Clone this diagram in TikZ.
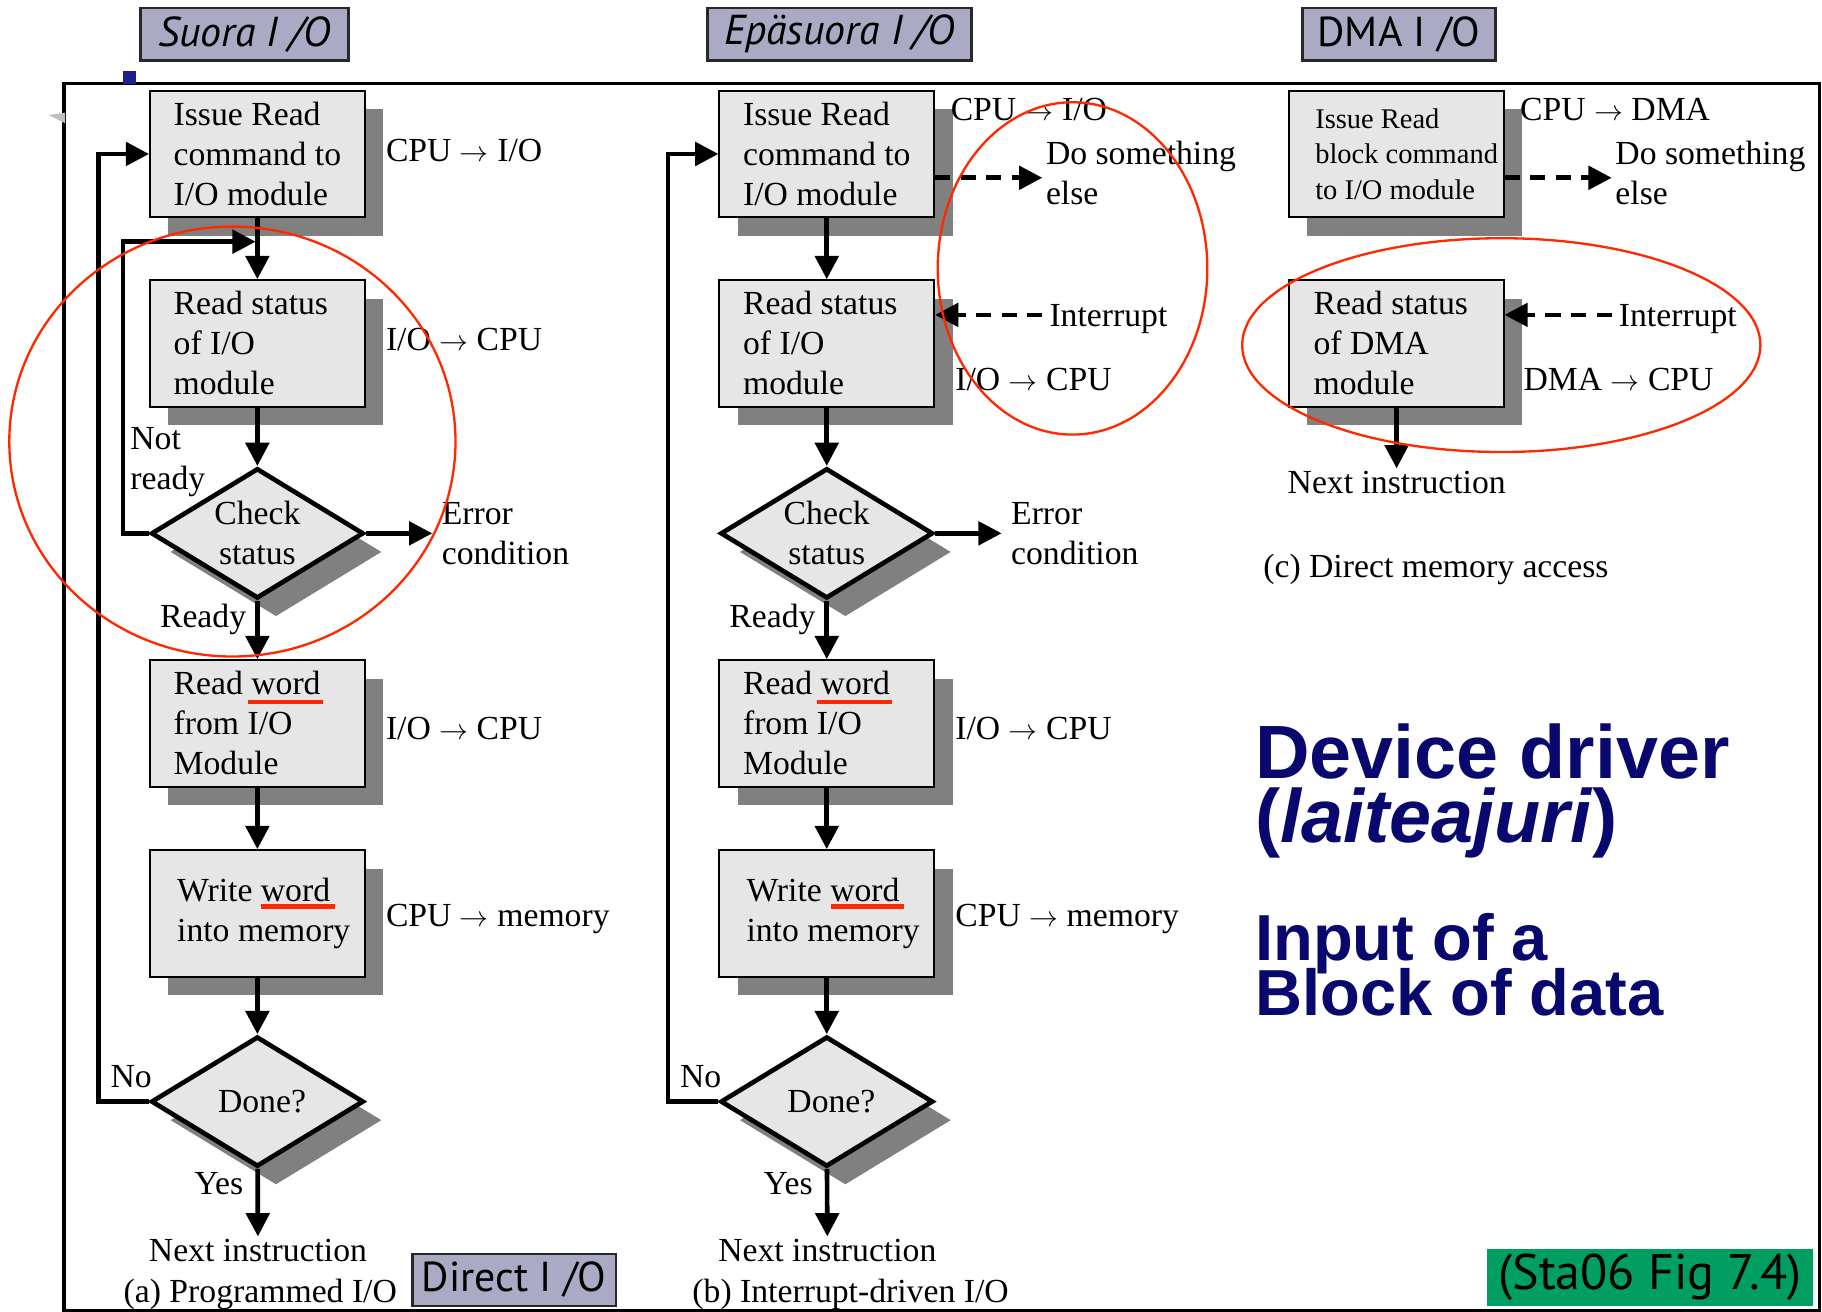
\documentclass[tikz,border=0pt]{standalone}
\usepackage{fontspec}
\setmainfont{Liberation Serif}
\newfontfamily\tagfont{PT Sans}
\newfontfamily\headfont{Liberation Sans}
\usetikzlibrary{arrows.meta,shapes.geometric,shadows}

\definecolor{boxgray}{RGB}{230,230,230}
\definecolor{shadowgray}{RGB}{128,128,128}
\definecolor{tagfill}{RGB}{170,170,196}
\definecolor{tagedge}{RGB}{40,40,40}
\definecolor{markred}{RGB}{255,40,0}
\definecolor{navy}{RGB}{8,8,110}
\definecolor{figgreen}{RGB}{0,158,96}
\definecolor{bulletblue}{RGB}{30,30,140}

% long arrow used in the transfer labels
\newcommand{\xfer}{\ensuremath{\rightarrow}}

\begin{document}
\begin{tikzpicture}[x=1pt,y=-1pt,
  txt/.style={font=\fontsize{29}{34.5}\selectfont, inner sep=0pt},
  smalltxt/.style={font=\fontsize{24.5}{30.5}\selectfont, inner sep=0pt},
  boxshadow/.style={drop shadow={shadow xshift=16pt, shadow yshift=-16pt, opacity=1, fill=shadowgray, draw=none}},
  stepbox/.style={draw=black, line width=1.5pt, fill=boxgray, minimum width=185pt,
    minimum height=109pt, inner sep=0pt, boxshadow},
  decision/.style={diamond, draw=black, line width=4pt, fill=boxgray, minimum width=183pt,
    minimum height=112pt, inner sep=0pt, boxshadow},
  flow/.style={line width=4pt, -{Triangle[length=20pt,width=20pt]}},
  dflow/.style={flow, dash pattern=on 13pt off 9pt},
  tag/.style={draw=tagedge, line width=2pt, fill=tagfill, minimum height=45pt, inner sep=0pt,
    font=\tagfont\fontsize{36}{36}\selectfont},
  redline/.style={markred, line width=4pt},
  halo/.style={markred, line width=2pt},
  head/.style={navy, inner sep=0pt, anchor=base west, font=\headfont\bfseries\fontsize{65}{65}\selectfont},
  subhead/.style={head, font=\headfont\bfseries\fontsize{56}{56}\selectfont}
]
\useasboundingbox (0,0) rectangle (1568,1129);

% outer frame and small marks at its corner
\draw[line width=3pt] (55,72) rectangle (1566,1128);
\fill[bulletblue] (106,61) rectangle (117,72);
\fill[gray!50] (42,99) -- (56,97) -- (56,106) -- cycle;

% headings above the three columns
\node[tag, minimum width=179pt, font=\tagfont\itshape\fontsize{36}{36}\selectfont] (tagA) at (210.5,29.5) {Suora I /O};
\node[tag, minimum width=227pt, font=\tagfont\itshape\fontsize{36}{36}\selectfont] (tagB) at (722.5,29.5) {Epäsuora I /O};
\node[tag, minimum width=166pt] (tagC) at (1204,29.5) {DMA I /O};
\node[tag, minimum width=175pt] (tagD) at (442.5,1101.5) {Direct I /O};
\node[fill=figgreen, minimum width=280pt, minimum height=49pt, inner sep=0pt,
  font=\tagfont\fontsize{43}{43}\selectfont] (fig) at (1420,1099.5) {(Sta06 Fig 7.4)};

% ---------------- (a) programmed I/O ----------------
\coordinate (lpA) at (85,0);
\coordinate (nrA) at (106,0);
\coordinate (joinA) at (220,208);
\coordinate (errA) at (372,459);

\node[stepbox] (a1) at (221.5,132.5) {};
\node[stepbox] (a2) at (221.5,295.5) {};
\node[decision] (ac) at (221.5,459) {};
\node[stepbox] (a3) at (221.5,622.5) {};
\node[stepbox] (a4) at (221.5,786) {};
\node[decision] (ad) at (221.5,948) {};

\node[txt, anchor=west, align=left] (a1t) at ([xshift=21pt]a1.west) {Issue Read\\command to\\I/O module};
\node[txt, anchor=west, align=left] (a2t) at ([xshift=21pt]a2.west) {Read status\\of I/O\\module};
\node[txt, align=center] (act) at (ac) {Check\\status};
\node[txt, anchor=west, align=left] (a3t) at ([xshift=21pt]a3.west) {Read word\\from I/O\\Module};
\node[txt, anchor=west, align=left] (a4t) at ([xshift=24pt]a4.west) {Write word\\into memory};
\node[txt] (adt) at ([xshift=4pt]ad.center) {Done?};

\node[txt, anchor=base west] (a1l) at (332,139) {CPU \xfer{} I/O};
\node[txt, anchor=base west] (a2l) at (332,302) {I/O \xfer{} CPU};
\node[txt, anchor=west, align=left] (aerr) at (380,459) {Error\\condition};
\node[txt, anchor=west, align=left] (anr) at (112,398) {Not\\ready};
\node[txt, anchor=base east] (ardy) at (212,540) {Ready};
\node[txt, anchor=base west] (a3l) at (332,636) {I/O \xfer{} CPU};
\node[txt, anchor=base west] (a4l) at (332,797) {CPU \xfer{} memory};
\node[txt, anchor=base west] (ano) at (95,936) {No};
\node[txt, anchor=base west] (ayes) at (167,1028) {Yes};
\node[txt, inner sep=2pt] (nxA) at (222,1076) {Next instruction};
\node[txt] (capA) at (224,1114) {(a) Programmed I/O};

\draw[flow] (a1) -- (a2);
\draw[flow] (a2) -- (ac);
\draw[flow] (ac) -- (a3);
\draw[flow] (a3) -- (a4);
\draw[flow] (a4) -- (ad);
\draw[flow] (ad) -- (nxA);
\draw[flow] (ac.east) -- (errA);
\draw[flow] (ac.west) -- (ac.west -| nrA) |- (joinA);
\draw[flow] (ad.west) -- (ad.west -| lpA) |- (a1.west);

% ---------------- (b) interrupt-driven I/O ----------------
\coordinate (lpB) at (575,0);
\coordinate (errB) at (862,459);
\coordinate (dB) at (897,153);
\coordinate (iB) at (897,271);

\node[stepbox] (b1) at (711.5,132.5) {};
\node[stepbox] (b2) at (711.5,295.5) {};
\node[decision] (bc) at (711.5,459) {};
\node[stepbox] (b3) at (711.5,622.5) {};
\node[stepbox] (b4) at (711.5,786) {};
\node[decision] (bd) at (711.5,948) {};

\node[txt, anchor=west, align=left] (b1t) at ([xshift=21pt]b1.west) {Issue Read\\command to\\I/O module};
\node[txt, anchor=west, align=left] (b2t) at ([xshift=21pt]b2.west) {Read status\\of I/O\\module};
\node[txt, align=center] (bct) at (bc) {Check\\status};
\node[txt, anchor=west, align=left] (b3t) at ([xshift=21pt]b3.west) {Read word\\from I/O\\Module};
\node[txt, anchor=west, align=left] (b4t) at ([xshift=24pt]b4.west) {Write word\\into memory};
\node[txt] (bdt) at ([xshift=4pt]bd.center) {Done?};

\node[txt, anchor=base west] (b1l) at (818,104) {CPU \xfer{} I/O};
\node[txt, anchor=west, align=left] (bdo) at (900,149) {Do something\\else};
\node[txt, anchor=base west] (bint) at (903,281) {Interrupt};
\node[txt, anchor=base west] (b2l) at (822,336) {I/O \xfer{} CPU};
\node[txt, anchor=west, align=left] (berr) at (870,459) {Error\\condition};
\node[txt, anchor=base east] (brdy) at (702,540) {Ready};
\node[txt, anchor=base west] (b3l) at (822,636) {I/O \xfer{} CPU};
\node[txt, anchor=base west] (b4l) at (822,797) {CPU \xfer{} memory};
\node[txt, anchor=base west] (bno) at (585,936) {No};
\node[txt, anchor=base west] (byes) at (657,1028) {Yes};
\node[txt, inner sep=2pt] (nxB) at (712,1076) {Next instruction};
\node[txt] (capB) at (732,1114) {(b) Interrupt-driven I/O};

\draw[flow] (b1) -- (b2);
\draw[flow] (b2) -- (bc);
\draw[flow] (bc) -- (b3);
\draw[flow] (b3) -- (b4);
\draw[flow] (b4) -- (bd);
\draw[flow] (bd) -- (nxB);
\draw[flow] (bc.east) -- (errB);
\draw[flow] (bd.west) -- (bd.west -| lpB) |- (b1.west);
\draw[dflow] (b1.east |- dB) -- (dB);
\draw[dflow] (iB) -- (b2.east |- iB);

% ---------------- (c) direct memory access ----------------
\coordinate (dC) at (1387,153);
\coordinate (iC) at (1387,271);

\node[stepbox] (c1) at (1201.5,132.5) {};
\node[stepbox] (c2) at (1201.5,295.5) {};

\node[smalltxt, anchor=west, align=left] (c1t) at ([xshift=23.5pt]c1.west) {Issue Read\\block command\\to I/O module};
\node[txt, anchor=west, align=left] (c2t) at ([xshift=22pt]c2.west) {Read status\\of DMA\\module};

\node[txt, anchor=base west] (c1l) at (1308,104) {CPU \xfer{} DMA};
\node[txt, anchor=west, align=left] (cdo) at (1390,149) {Do something\\else};
\node[txt, anchor=base west] (cint) at (1393,281) {Interrupt};
\node[txt, anchor=base west] (c2l) at (1311,336) {DMA \xfer{} CPU};
\node[txt, inner sep=2pt] (nxC) at (1202,415) {Next instruction};
\node[txt, anchor=base west] (capC) at (1087,497) {(c) Direct memory access};

\draw[flow] (c2) -- (nxC);
\draw[dflow] (c1.east |- dC) -- (dC);
\draw[dflow] (iC) -- (c2.east |- iC);

% ---------------- side notes ----------------
\node[head] (h1) at (1080,670) {Device driver};
\node[head] (h2) at (1080,725) {(\textit{laiteajuri})};
\node[subhead] (h3) at (1080,827) {Input of a};
\node[subhead] (h4) at (1080,874) {Block of data};

% ---------------- red highlights ----------------
\draw[redline] (213,604) -- (278,604);
\draw[redline] (225,780) -- (288,780);
\draw[redline] (703,604) -- (768,604);
\draw[redline] (715,780) -- (778,780);
\draw[halo] (200,380) ellipse [x radius=192pt, y radius=185pt];
\draw[halo] (923,231) ellipse [x radius=116pt, y radius=143pt];
\draw[halo] (1292,297) ellipse [x radius=223pt, y radius=92pt];
\end{tikzpicture}
\end{document}
